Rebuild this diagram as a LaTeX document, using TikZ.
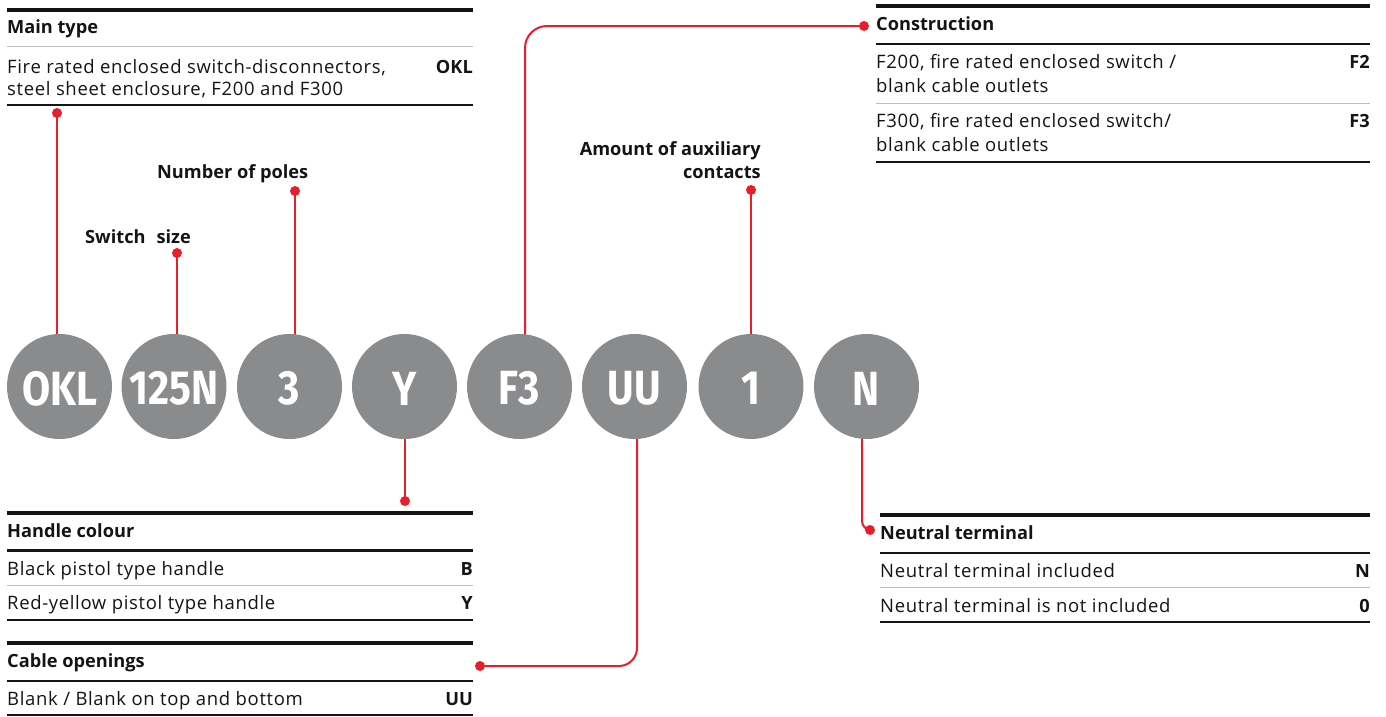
\documentclass[tikz,border=0pt]{standalone}
\usepackage{fontspec}
\setmainfont{Open Sans}
\newfontfamily\bodyf[LetterSpace=3.5]{Open Sans}
\newfontfamily\circfont[FakeStretch=0.85]{Fira Sans}
\usetikzlibrary{calc}
\pgfdeclarelayer{bg}
\pgfsetlayers{bg,main}
\definecolor{abbred}{RGB}{232,30,42}
\definecolor{circgrey}{RGB}{138,139,141}
\definecolor{txt}{RGB}{20,20,20}
\definecolor{rulegrey}{RGB}{190,190,190}
\tikzset{
  thickrule/.style={line width=4pt, draw=txt},
  midrule/.style={line width=2.5pt, draw=txt},
  greyrule/.style={line width=1pt, draw=rulegrey},
  txtnode/.style={anchor=base west, inner sep=0pt, font=\bodyf\fontsize{18.5}{22}\selectfont, text=txt},
  hdr/.style={anchor=base west, inner sep=0pt, font=\fontsize{18.2}{22}\selectfont\bfseries, text=txt},
  hdrr/.style={anchor=base east, inner sep=0pt, font=\fontsize{18.2}{22}\selectfont\bfseries, text=txt},
  codetxt/.style={anchor=base east, inner sep=0pt, font=\fontsize{18.2}{22}\selectfont\bfseries, text=txt},
  codecirc/.style={circle, fill=circgrey, minimum size=105pt, inner sep=0pt, text=white, font=\circfont\bfseries\fontsize{48}{50}\selectfont},
  circlabel/.style={text=white, inner sep=0pt, font=\circfont\bfseries\fontsize{48}{50}\selectfont},
  redline/.style={draw=abbred, line width=2pt},
  reddot/.style={circle, fill=abbred, minimum size=10pt, inner sep=0pt},
}
\begin{document}
\begin{tikzpicture}[x=1pt, y=-1pt]
\useasboundingbox (0,0) rectangle (1386,716);

% code circles
\node[codecirc] (c1) at (59.5,386.5) {};
\node[codecirc] (c2) at (174,386.5) {};
\node[codecirc] (c3) at (289.5,386.5) {};
\node[codecirc] (c4) at (404.5,386.5) {};
\node[codecirc] (c5) at (519.5,386.5) {};
\node[codecirc] (c6) at (634.5,386.5) {};
\node[codecirc] (c7) at (751,386.5) {};
\node[codecirc] (c8) at (866.5,386.5) {};
\node[circlabel] (t1) at ([yshift=-2pt]c1.center) {OKL};
\node[circlabel] (t2) at ([yshift=-2pt]c2.center) {125N};
\node[circlabel] (t3) at ([yshift=-2pt]c3.center) {3};
\node[circlabel] (t4) at ([yshift=-2pt]c4.center) {Y};
\node[circlabel] (t5) at ([yshift=-2pt]c5.center) {F3};
\node[circlabel] (t6) at ([yshift=-2pt]c6.center) {UU};
\node[circlabel] (t7) at ([yshift=-2pt]c7.center) {1};
\node[circlabel] (t8) at ([yshift=-2pt]c8.center) {N};

% dots
\node[reddot] (d1) at (57,113) {};
\node[reddot] (d2) at (177,253) {};
\node[reddot] (d3) at (295,191) {};
\node[reddot] (d4) at (405,501) {};
\node[reddot] (d5) at (864,26) {};
\node[reddot] (d6) at (480,666) {};
\node[reddot] (d7) at (751,190) {};
\node[reddot] (d8) at (870,530) {};

% connectors
\begin{pgfonlayer}{bg}
\draw[redline] (d1.center) -- (d1.center |- c1.center);
\draw[redline] (d2.center) -- (d2.center |- c2.center);
\draw[redline] (d3.center) -- (d3.center |- c3.center);
\draw[redline] (d4.center) -- (d4.center |- c4.center);
\draw[redline, rounded corners=22pt] ([xshift=5.5pt]c5.center) |- (d5.center);
\draw[redline, rounded corners=18pt] ([xshift=2.5pt]c6.center) |- (d6.center);
\draw[redline] (d7.center) -- (d7.center |- c7.center);
\draw[redline, rounded corners=9pt] ([xshift=-4.5pt]c8.center) |- (d8.center);
\end{pgfonlayer}

% free labels
\node[hdr] (lpoles) at (157,178) {Number of poles};
\node[hdr] (lsize) at (85,243) {Switch\hspace{11pt}size};
\node[hdrr] (laux1) at (761,155) {Amount of auxiliary};
\node[hdrr] (laux2) at (761,178) {contacts};

% Main type table
\draw[thickrule] (7,9.5) -- (473,9.5);
\node[hdr] (tmain) at (7,33) {Main type};
\draw[greyrule] (7,46.5) -- (473,46.5);
\node[txtnode] (tmain1) at (7,73) {Fire rated enclosed switch-disconnectors,};
\node[txtnode] (tmain2) at (7,95) {steel sheet enclosure, F200 and F300};
\node[codetxt] (tmainc) at (473,73) {OKL};
\draw[midrule] (7,105) -- (473,105);

% Construction table
\draw[thickrule] (876,6) -- (1370,6);
\node[hdr] (tcon) at (876,30) {Construction};
\draw[midrule] (876,44) -- (1370,44);
\node[txtnode] (tcon1) at (876,68) {F200, fire rated enclosed switch /};
\node[txtnode] (tcon1b) at (876,92) {blank cable outlets};
\node[codetxt] (tcon1c) at (1370,68) {F2};
\draw[greyrule] (876,103) -- (1370,103);
\node[txtnode] (tcon2) at (876,127) {F300, fire rated enclosed switch/};
\node[txtnode] (tcon2b) at (876,151) {blank cable outlets};
\node[codetxt] (tcon2c) at (1370,127) {F3};
\draw[midrule] (876,162) -- (1370,162);

% Handle colour table
\draw[thickrule] (7,513) -- (473,513);
\node[hdr] (thand) at (7,537) {Handle colour};
\draw[midrule] (7,550.5) -- (473,550.5);
\node[txtnode] (thand1) at (7,575) {Black pistol type handle};
\node[codetxt] (thand1c) at (473,575) {B};
\draw[greyrule] (7,585.5) -- (473,585.5);
\node[txtnode] (thand2) at (7,609) {Red-yellow pistol type handle};
\node[codetxt] (thand2c) at (473,609) {Y};
\draw[midrule] (7,620) -- (473,620);

% Cable openings table
\draw[thickrule] (7,643) -- (473,643);
\node[hdr] (tcab) at (7,667) {Cable openings};
\draw[midrule] (7,681) -- (473,681);
\node[txtnode] (tcab1) at (7,705) {Blank / Blank on top and bottom};
\node[codetxt] (tcab1c) at (473,705) {UU};
\draw[midrule] (7,715) -- (473,715);

% Neutral terminal table
\draw[thickrule] (880,514.5) -- (1370,514.5);
\node[hdr] (tneu) at (880,539) {Neutral terminal};
\draw[midrule] (880,553) -- (1370,553);
\node[txtnode] (tneu1) at (880,577) {Neutral terminal included};
\node[codetxt] (tneu1c) at (1370,577) {N};
\draw[greyrule] (880,587.5) -- (1370,587.5);
\node[txtnode] (tneu2) at (880,612) {Neutral terminal is not included};
\node[codetxt] (tneu2c) at (1370,612) {0};
\draw[midrule] (880,622) -- (1370,622);
\end{tikzpicture}
\end{document}
